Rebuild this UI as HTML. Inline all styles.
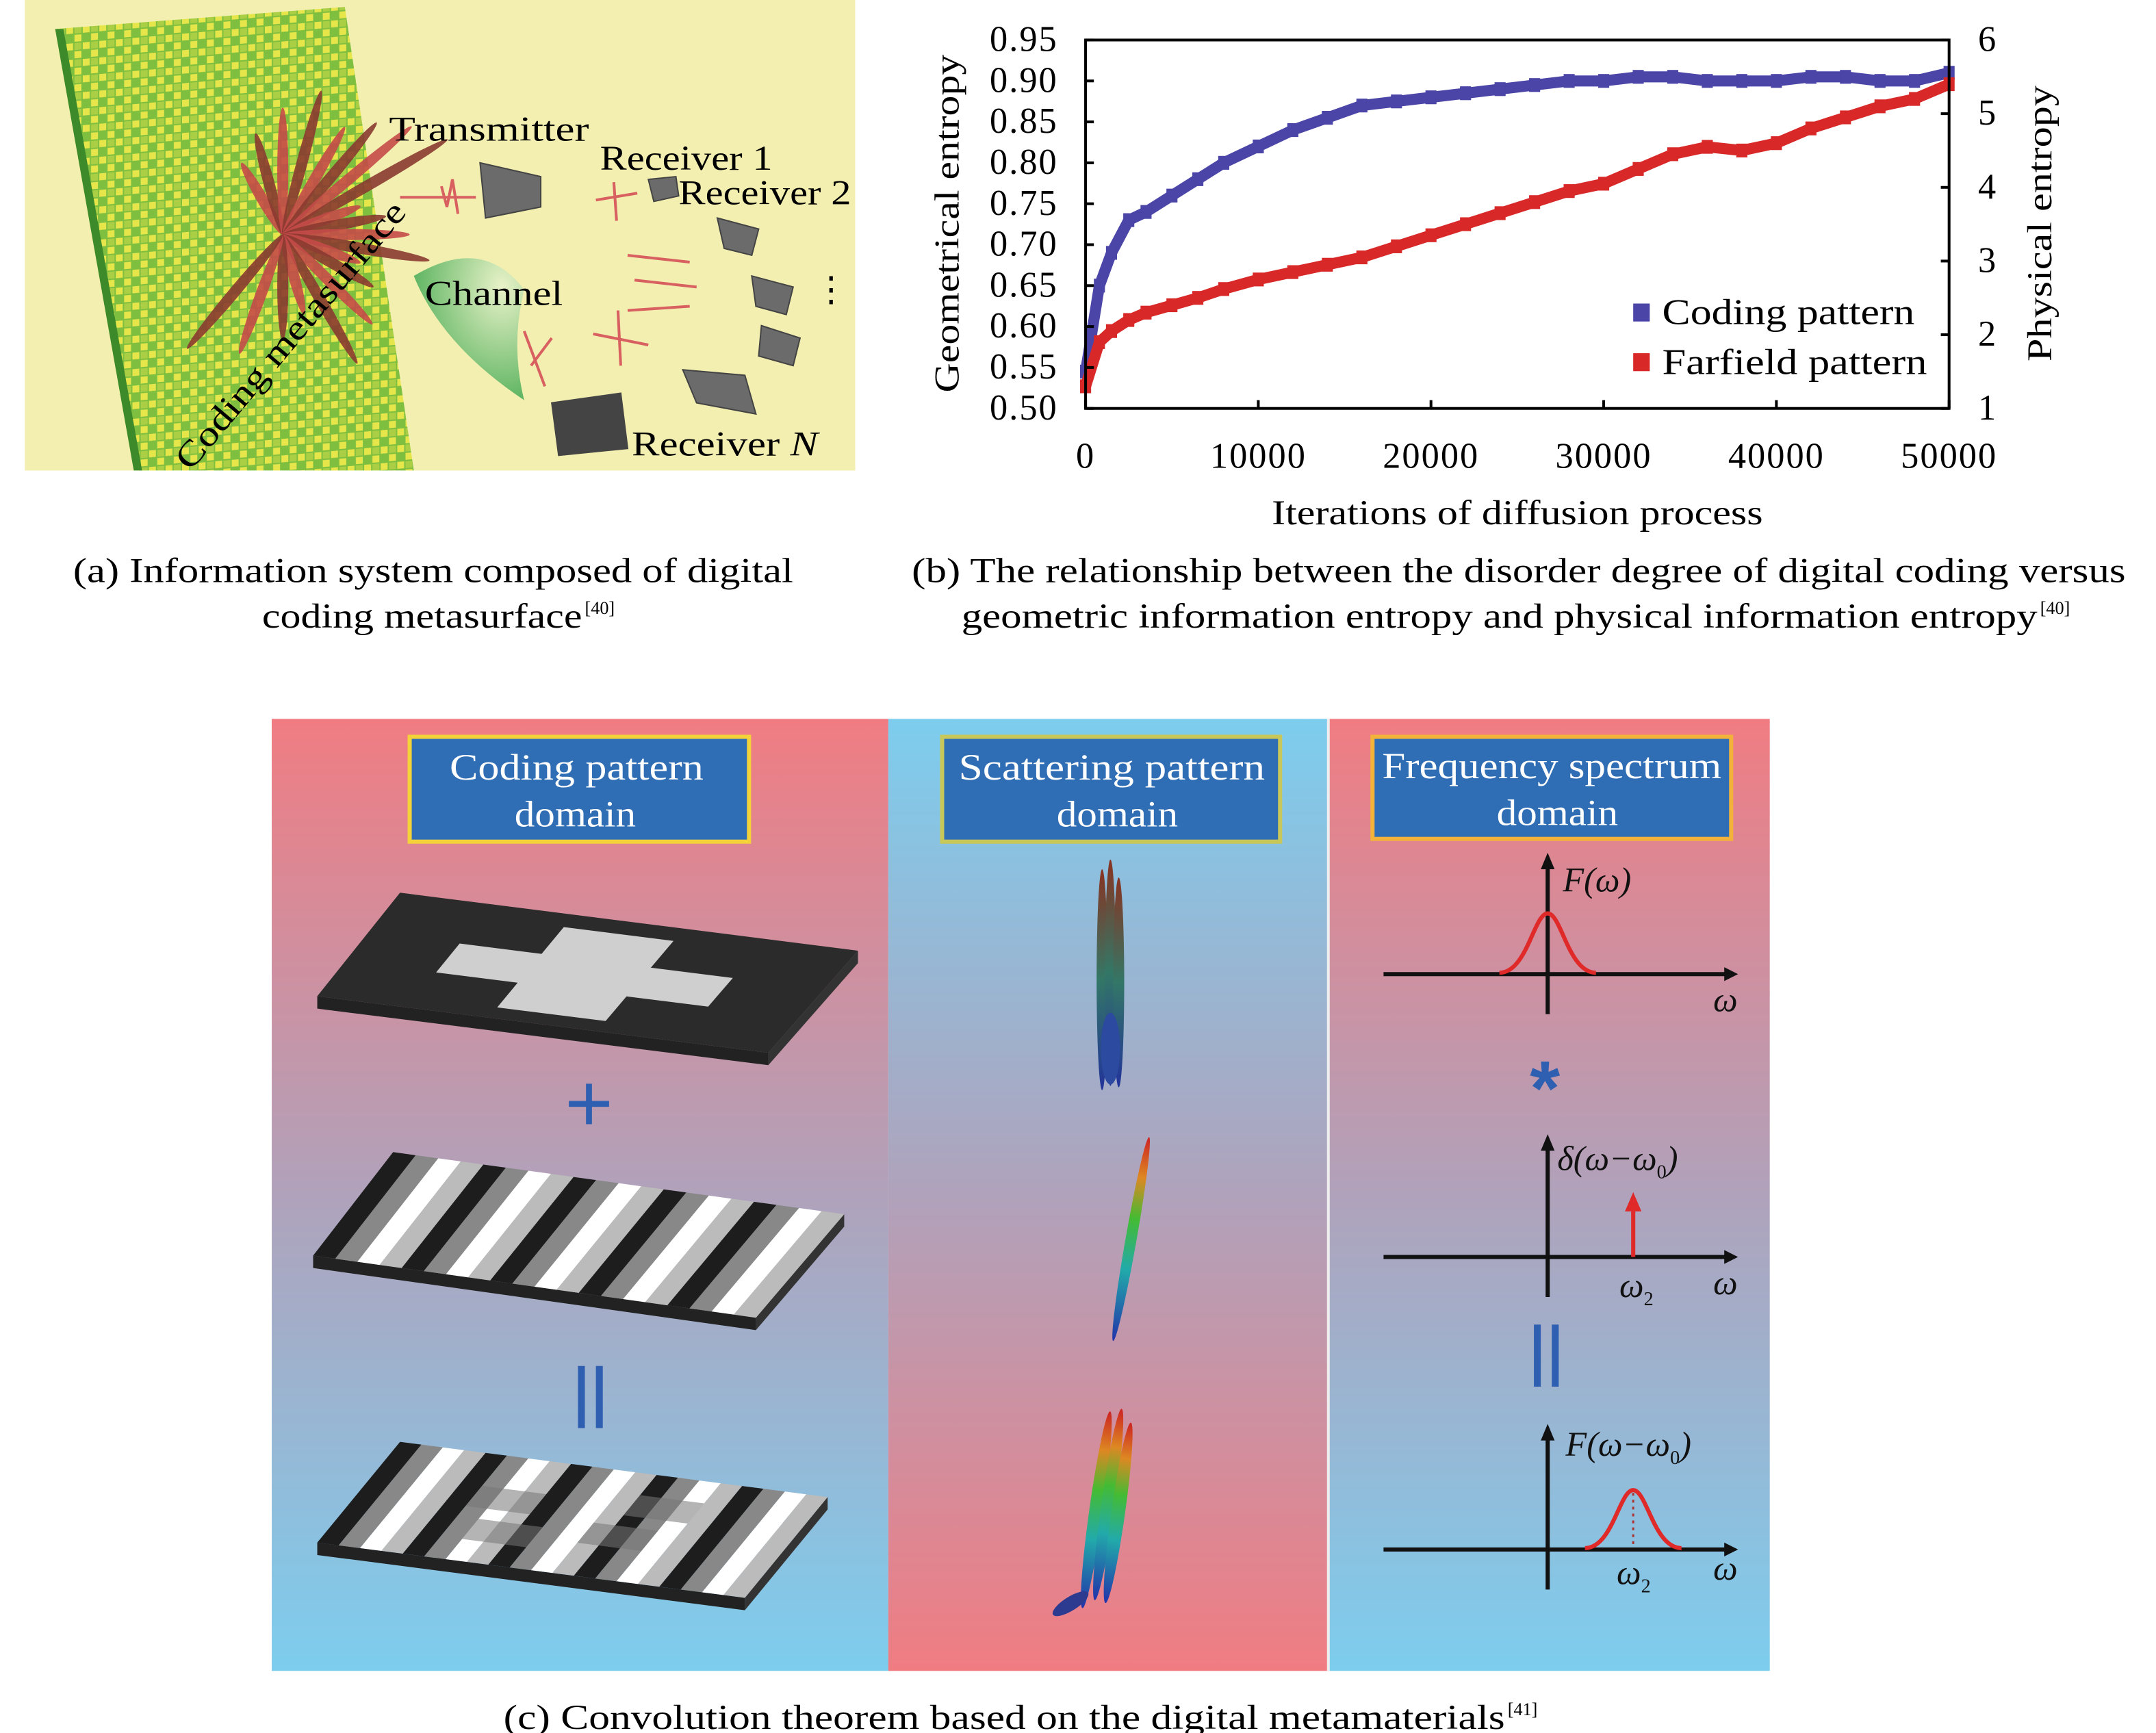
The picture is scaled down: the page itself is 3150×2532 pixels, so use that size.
<!DOCTYPE html>
<html><head><meta charset="utf-8"><style>
html,body{margin:0;padding:0;background:#fff;}
svg{display:block;font-family:"Liberation Serif",serif;}
</style></head><body>
<svg id="root" width="3150" height="2532" viewBox="0 0 1563 1256" preserveAspectRatio="none" xmlns="http://www.w3.org/2000/svg">
<defs>
<pattern id="cells" width="12" height="12" patternUnits="userSpaceOnUse" patternTransform="skewY(-5)">
<rect width="12" height="12" fill="#7fbf3f"/>
<rect x="0" y="0" width="5" height="5" fill="#e6e64a"/>
<rect x="6" y="6" width="5" height="5" fill="#e6e64a"/>
<rect x="6" y="0" width="5" height="5" fill="#d8e04a" opacity="0.5"/>
</pattern>
<linearGradient id="rb" x1="0" y1="0" x2="0" y2="1"><stop offset="0" stop-color="#f07c82"/><stop offset="0.5" stop-color="#b0a2bb"/><stop offset="1" stop-color="#7dcdee"/></linearGradient>
<linearGradient id="br" x1="0" y1="0" x2="0" y2="1"><stop offset="0" stop-color="#7dcdee"/><stop offset="0.5" stop-color="#b0a2bb"/><stop offset="1" stop-color="#f07c82"/></linearGradient>
<linearGradient id="beam" x1="0" y1="1" x2="0" y2="0"><stop offset="0" stop-color="#2233aa"/><stop offset="0.35" stop-color="#22aaaa"/><stop offset="0.6" stop-color="#44bb33"/><stop offset="0.8" stop-color="#dd8822"/><stop offset="1" stop-color="#cc2222"/></linearGradient>
<linearGradient id="beamDark" x1="0" y1="1" x2="0" y2="0"><stop offset="0" stop-color="#223399"/><stop offset="0.5" stop-color="#337766"/><stop offset="1" stop-color="#883322"/></linearGradient>
<radialGradient id="chan" cx="0.8" cy="0.2" r="1"><stop offset="0" stop-color="#e8f2c8"/><stop offset="1" stop-color="#3ea64a"/></radialGradient>
</defs>

<!-- Panel a -->
<g>
<rect x="18" y="0" width="602" height="341" fill="#f3efb0"/>
<polygon points="40,21 250,5 300,341 97,341" fill="url(#cells)"/>
<polygon points="40,21 46,21 103,341 97,341" fill="#3d8a2a"/>
<g id="petals"></g>
<path d="M300,200 Q350,170 380,210 Q370,250 380,290 Q320,250 300,200Z" fill="url(#chan)"/>
<g fill="#6b6b6b" stroke="#444" stroke-width="1">
<polygon points="348,118 392,128 392,150 352,158"/>
<polygon points="470,130 490,128 492,142 474,146"/>
<polygon points="520,158 550,166 545,185 525,180"/>
<polygon points="545,200 575,208 570,228 548,222"/>
<polygon points="552,236 580,245 575,265 550,258"/>
<polygon points="495,268 540,272 548,300 505,292"/>
<polygon points="400,292 450,285 455,325 405,330" fill="#444"/>
</g>
<g stroke="#d86060" stroke-width="2" fill="none">
<path d="M290,143 L345,143"/><path d="M320,135 L324,150 L328,130 L332,155"/>
<path d="M432,145 L462,140"/><path d="M445,132 L447,160"/>
<path d="M455,185 L500,190"/><path d="M460,203 L505,208"/><path d="M455,225 L500,222"/>
<path d="M430,242 L470,250"/><path d="M448,225 L450,265"/>
<path d="M380,240 L395,280"/><path d="M385,265 L400,245"/>
</g>
<g font-size="25" lengthAdjust="spacingAndGlyphs">
<text x="282" y="102" textLength="145" lengthAdjust="spacingAndGlyphs">Transmitter</text>
<text x="435" y="123" textLength="125" lengthAdjust="spacingAndGlyphs">Receiver 1</text>
<text x="492" y="148" textLength="125" lengthAdjust="spacingAndGlyphs">Receiver 2</text>
<text x="308" y="221" textLength="100" lengthAdjust="spacingAndGlyphs">Channel</text>
<text x="590" y="218">⋮</text>
<text x="458" y="330" textLength="135" lengthAdjust="spacingAndGlyphs">Receiver <tspan font-style="italic">N</tspan></text>
<text x="0" y="0" textLength="245" lengthAdjust="spacingAndGlyphs" transform="translate(138,342) rotate(-50)">Coding metasurface</text>
</g>
</g>

<!-- Panel b chart -->
<g id="chart">
<text x="0" y="0" font-size="25" text-anchor="middle" textLength="245" lengthAdjust="spacingAndGlyphs" transform="translate(695,162) rotate(-90)">Geometrical entropy</text>
<text x="0" y="0" font-size="25" text-anchor="middle" textLength="200" lengthAdjust="spacingAndGlyphs" transform="translate(1487,162) rotate(-90)">Physical entropy</text>
<text x="922" y="380" font-size="25" textLength="356" lengthAdjust="spacingAndGlyphs">Iterations of diffusion process</text>
<g id="series"></g>
<rect x="787" y="29" width="626" height="267" fill="none" stroke="#000" stroke-width="2"/>
<g id="ticks"></g>
<g>
<rect x="1184" y="220" width="12" height="13" fill="#4a45a6"/>
<text x="1205" y="235" font-size="26" textLength="183" lengthAdjust="spacingAndGlyphs">Coding pattern</text>
<rect x="1184" y="256" width="12" height="13" fill="#d82828"/>
<text x="1205" y="271" font-size="26" textLength="192" lengthAdjust="spacingAndGlyphs">Farfield pattern</text>
</g>
</g>

<!-- captions -->
<g font-size="25">
<text x="53" y="422" textLength="522" lengthAdjust="spacingAndGlyphs">(a) Information system composed of digital</text>
<text x="190" y="455" textLength="232" lengthAdjust="spacingAndGlyphs">coding metasurface</text>
<text x="424" y="445" font-size="13">[40]</text>
<text x="661" y="422" textLength="880" lengthAdjust="spacingAndGlyphs">(b) The relationship between the disorder degree of digital coding versus</text>
<text x="697" y="455" textLength="780" lengthAdjust="spacingAndGlyphs">geometric information entropy and physical information entropy</text>
<text x="1479" y="445" font-size="13">[40]</text>
<text x="365" y="1253" textLength="726" lengthAdjust="spacingAndGlyphs">(c) Convolution theorem based on the digital metamaterials</text>
<text x="1093" y="1243" font-size="13">[41]</text>
</g>

<!-- Panel c -->
<g>
<rect x="197" y="521" width="447" height="690" fill="url(#rb)"/>
<rect x="644" y="521" width="319" height="690" fill="url(#br)"/>
<rect x="963" y="521" width="320" height="690" fill="url(#rb)"/>
<line x1="963" y1="521" x2="963" y2="1211" stroke="#eee" stroke-width="2"/>
<g font-size="27" fill="#fff">
<rect x="297" y="534" width="246" height="76" fill="#2f6db4" stroke="#f3d23a" stroke-width="3"/>
<text x="326" y="565" textLength="184" lengthAdjust="spacingAndGlyphs">Coding pattern</text>
<text x="373" y="599" textLength="88" lengthAdjust="spacingAndGlyphs">domain</text>
<rect x="683" y="534" width="245" height="76" fill="#2f6db4" stroke="#c8c85a" stroke-width="3"/>
<text x="695" y="565" textLength="222" lengthAdjust="spacingAndGlyphs">Scattering pattern</text>
<text x="766" y="599" textLength="88" lengthAdjust="spacingAndGlyphs">domain</text>
<rect x="995" y="534" width="260" height="74" fill="#2f6db4" stroke="#f3b23a" stroke-width="3"/>
<text x="1002" y="564" textLength="246" lengthAdjust="spacingAndGlyphs">Frequency spectrum</text>
<text x="1085" y="598" textLength="88" lengthAdjust="spacingAndGlyphs">domain</text>
</g>
<g id="crossplate"></g>
<text x="427" y="820" font-size="60" fill="#2f5fb0" text-anchor="middle" font-family="Liberation Sans,sans-serif">+</text>
<g id="stripes1"></g>
<g><rect x="419" y="990" width="5" height="45" fill="#2f5fb0"/><rect x="432" y="990" width="5" height="45" fill="#2f5fb0"/></g>
<g id="stripes2"></g>
<!-- beams -->
<g>
<ellipse cx="799" cy="710" rx="4" ry="80" fill="url(#beamDark)"/>
<ellipse cx="805" cy="705" rx="4" ry="82" fill="url(#beamDark)"/>
<ellipse cx="811" cy="712" rx="4" ry="76" fill="url(#beamDark)"/>
<ellipse cx="805" cy="760" rx="7" ry="26" fill="#2c4aa0"/>
</g>
<g transform="rotate(10 820 898)">
<ellipse cx="820" cy="898" rx="4" ry="75" fill="url(#beam)"/>
</g>
<g transform="rotate(8 800 1100)">
<ellipse cx="794" cy="1095" rx="5" ry="72" fill="url(#beam)"/>
<ellipse cx="802" cy="1090" rx="5" ry="70" fill="url(#beam)"/>
<ellipse cx="810" cy="1095" rx="5" ry="66" fill="url(#beam)"/>
<ellipse cx="785" cy="1165" rx="5" ry="15" fill="#2c3a90" transform="rotate(50 785 1165)"/>
</g>
<!-- spectra -->
<g stroke="#111" stroke-width="3" fill="#111">
<line x1="1003" y1="706" x2="1252" y2="706"/><polygon points="1260,706 1250,701 1250,711" stroke="none"/>
<line x1="1122" y1="628" x2="1122" y2="735"/><polygon points="1122,618 1117,630 1127,630" stroke="none"/>
<line x1="1003" y1="911" x2="1252" y2="911"/><polygon points="1260,911 1250,906 1250,916" stroke="none"/>
<line x1="1122" y1="832" x2="1122" y2="940"/><polygon points="1122,822 1117,834 1127,834" stroke="none"/>
<line x1="1003" y1="1123" x2="1252" y2="1123"/><polygon points="1260,1123 1250,1118 1250,1128" stroke="none"/>
<line x1="1122" y1="1042" x2="1122" y2="1152"/><polygon points="1122,1032 1117,1044 1127,1044" stroke="none"/>
</g>
<path d="M1087,705 C1107,705 1112,662 1122,662 C1132,662 1137,705 1157,705" fill="none" stroke="#e02a2a" stroke-width="3"/>
<g><line x1="1184" y1="911" x2="1184" y2="875" stroke="#e02a2a" stroke-width="3"/><polygon points="1184,864 1178,878 1190,878" fill="#e02a2a"/></g>
<path d="M1149,1122 C1169,1122 1174,1080 1184,1080 C1194,1080 1199,1122 1219,1122" fill="none" stroke="#e02a2a" stroke-width="3"/>
<line x1="1184" y1="1082" x2="1184" y2="1122" stroke="#a33" stroke-width="1.5" stroke-dasharray="2,3"/>
<g font-size="25" font-style="italic" fill="#111">
<text x="1133" y="646">F(ω)</text>
<text x="1242" y="733">ω</text>
<text x="1129" y="848">δ(ω−ω<tspan font-size="14" dy="6" font-style="normal">0</tspan><tspan dy="-6">)</tspan></text>
<text x="1174" y="940">ω<tspan font-size="14" dy="6" font-style="normal">2</tspan></text>
<text x="1242" y="938">ω</text>
<text x="1135" y="1055">F(ω−ω<tspan font-size="14" dy="6" font-style="normal">0</tspan><tspan dy="-6">)</tspan></text>
<text x="1172" y="1148">ω<tspan font-size="14" dy="6" font-style="normal">2</tspan></text>
<text x="1242" y="1145">ω</text>
</g>
<text x="1120" y="808" font-size="56" fill="#2f5fb0" text-anchor="middle" font-family="Liberation Sans,sans-serif" font-weight="bold">*</text>
<g><rect x="1112" y="960" width="5" height="45" fill="#2f5fb0"/><rect x="1125" y="960" width="5" height="45" fill="#2f5fb0"/></g>
</g>
</svg>
<script>
const NS="http://www.w3.org/2000/svg";
// chart data
const iterations=[0,800,1500,2500,3500,5000,6500,8000,10000,12000,14000,16000,18000,20000,22000,24000,26000,28000,30000,32000,34000,36000,38000,40000,42000,44000,46000,48000,50000];
const codingEntropy=[0.545,0.65,0.69,0.73,0.74,0.76,0.78,0.80,0.82,0.84,0.855,0.87,0.875,0.88,0.885,0.89,0.895,0.90,0.90,0.905,0.905,0.90,0.90,0.90,0.905,0.905,0.90,0.90,0.91];
const farfieldEntropy=[1.3,1.9,2.05,2.2,2.3,2.4,2.5,2.62,2.75,2.85,2.95,3.05,3.2,3.35,3.5,3.65,3.8,3.95,4.05,4.25,4.45,4.55,4.5,4.6,4.8,4.95,5.1,5.2,5.4];
const xTicks=[0,10000,20000,30000,40000,50000];
const yLeftTicks=[0.50,0.55,0.60,0.65,0.70,0.75,0.80,0.85,0.90,0.95];
const yRightTicks=[1,2,3,4,5,6];

const X0=787,X1=1413,Y0=296,Y1=29;
const xs=v=>X0+(v-0)/(50000-0)*(X1-X0);
const yl=v=>Y0-(v-0.5)/(0.95-0.5)*(Y0-Y1);
const yr=v=>Y0-(v-1)/(6-1)*(Y0-Y1);

const series=document.getElementById('series');
function drawSeries(vals,yf,color,name){
  const pl=document.createElementNS(NS,'polyline');
  pl.setAttribute('points',iterations.map((x,i)=>xs(x)+','+yf(vals[i])).join(' '));
  pl.setAttribute('fill','none');pl.setAttribute('stroke',color);pl.setAttribute('stroke-width','8');
  
  
  series.appendChild(pl);
  iterations.forEach((x,i)=>{
    const r=document.createElementNS(NS,'rect');
    r.setAttribute('x',xs(x)-4);r.setAttribute('y',yf(vals[i])-5);r.setAttribute('width',8);r.setAttribute('height',10);r.setAttribute('fill',color);
    
    
    series.appendChild(r);
  });
}
drawSeries(codingEntropy,yl,'#4a45a6','coding-pattern');
drawSeries(farfieldEntropy,yr,'#d82828','farfield-pattern');

const ticks=document.getElementById('ticks');
function line(x1,y1,x2,y2){const l=document.createElementNS(NS,'line');l.setAttribute('x1',x1);l.setAttribute('y1',y1);l.setAttribute('x2',x2);l.setAttribute('y2',y2);l.setAttribute('stroke','#000');l.setAttribute('stroke-width','2');ticks.appendChild(l);return l;}
function txt(x,y,s,anchor){const t=document.createElementNS(NS,'text');t.setAttribute('x',x);t.setAttribute('y',y);t.setAttribute('font-size','26');t.setAttribute('text-anchor',anchor);t.setAttribute('letter-spacing','1');t.textContent=s;ticks.appendChild(t);return t;}
xTicks.forEach(v=>{
  const l=line(xs(v),Y0,xs(v),Y0-6);
  
  
  const t=txt(xs(v),339,String(v),'middle');
  
  
});
yLeftTicks.forEach(v=>{
  const l=line(X0,yl(v),X0+6,yl(v));
  
  
  const t=txt(767,yl(v)+8,v.toFixed(2),'end');
  
  
});
yRightTicks.forEach(v=>{
  const l=line(X1,yr(v),X1-6,yr(v));
  
  
  const t=txt(1434,yr(v)+8,String(v),'start');
  
  
});

// petals (illustration)
const petals=document.getElementById('petals');
[-120,-105,-90,-75,-60,-50,-40,-30,-20,-10,0,10,20,30,45,60,75,90,110,130].forEach((a,i)=>{
  const cx0=205,cy0=170;
  const len=30+(i%4)*8+(a<-20&&a>-70?15:0);
  const cx=cx0+len*Math.cos(a*Math.PI/180),cy=cy0+len*Math.sin(a*Math.PI/180);
  const e=document.createElementNS(NS,'ellipse');
  e.setAttribute('cx',cx);e.setAttribute('cy',cy);
  e.setAttribute('rx',len);e.setAttribute('ry',4);
  e.setAttribute('transform','rotate('+a+' '+cx+' '+cy+')');
  e.setAttribute('fill',i%2?'#8a3a30':'#c44a48');e.setAttribute('opacity','0.9');
  petals.appendChild(e);
});

// plate helper: bl=back-left, brt=back-right, fr=front-right, fl=front-left
function mk(g,pts,fill){const s=document.createElementNS(NS,'polygon');s.setAttribute('points',pts.map(q=>q.join(',')).join(' '));s.setAttribute('fill',fill);g.appendChild(s);}
function P(c,u,v){const [bl,brt,fr,fl]=c;const top=[bl[0]+(brt[0]-bl[0])*u,bl[1]+(brt[1]-bl[1])*u];const bot=[fl[0]+(fr[0]-fl[0])*u,fl[1]+(fr[1]-fl[1])*u];return [top[0]+(bot[0]-top[0])*v,top[1]+(bot[1]-top[1])*v];}
function base(g,c){const [bl,brt,fr,fl]=c;
  mk(g,[fl,fr,[fr[0],fr[1]+9],[fl[0],fl[1]+9]],'#222');
  mk(g,[fr,brt,[brt[0],brt[1]+9],[fr[0],fr[1]+9]],'#333');}
function stripes(g,c,n){const cols=['#1d1d1d','#888','#fff','#bbb'];
  for(let i=0;i<n;i++){mk(g,[P(c,i/n,0),P(c,(i+1)/n,0),P(c,(i+1)/n,1),P(c,i/n,1)],cols[i%4]);}}
// cross plate
(function(){const g=document.getElementById('crossplate');const c=[[290,647],[622,689],[557,763],[230,722]];
  base(g,c);mk(g,c,'#2b2b2b');
  const rect=(u0,u1,v0,v1)=>mk(g,[P(c,u0,v0),P(c,u1,v0),P(c,u1,v1),P(c,u0,v1)],'#cfcfcf');
  rect(0.2,0.8,0.38,0.66);rect(0.38,0.62,0.12,0.9);})();
(function(){const g=document.getElementById('stripes1');const c=[[285,835],[612,880],[548,955],[227,910]];
  base(g,c);stripes(g,c,20);})();
(function(){const g=document.getElementById('stripes2');const c=[[290,1045],[600,1085],[540,1158],[230,1118]];
  base(g,c);stripes(g,c,20);
  [[0.25,0.3],[0.55,0.5],[0.3,0.6],[0.6,0.2]].forEach(([u,v])=>{
    const m=[P(c,u,v),P(c,u+0.15,v),P(c,u+0.15,v+0.2),P(c,u,v+0.2)];
    const s=document.createElementNS(NS,'polygon');s.setAttribute('points',m.map(q=>q.join(',')).join(' '));
    s.setAttribute('fill','#777');s.setAttribute('opacity','0.55');g.appendChild(s);});})();
</script>
</body></html>
